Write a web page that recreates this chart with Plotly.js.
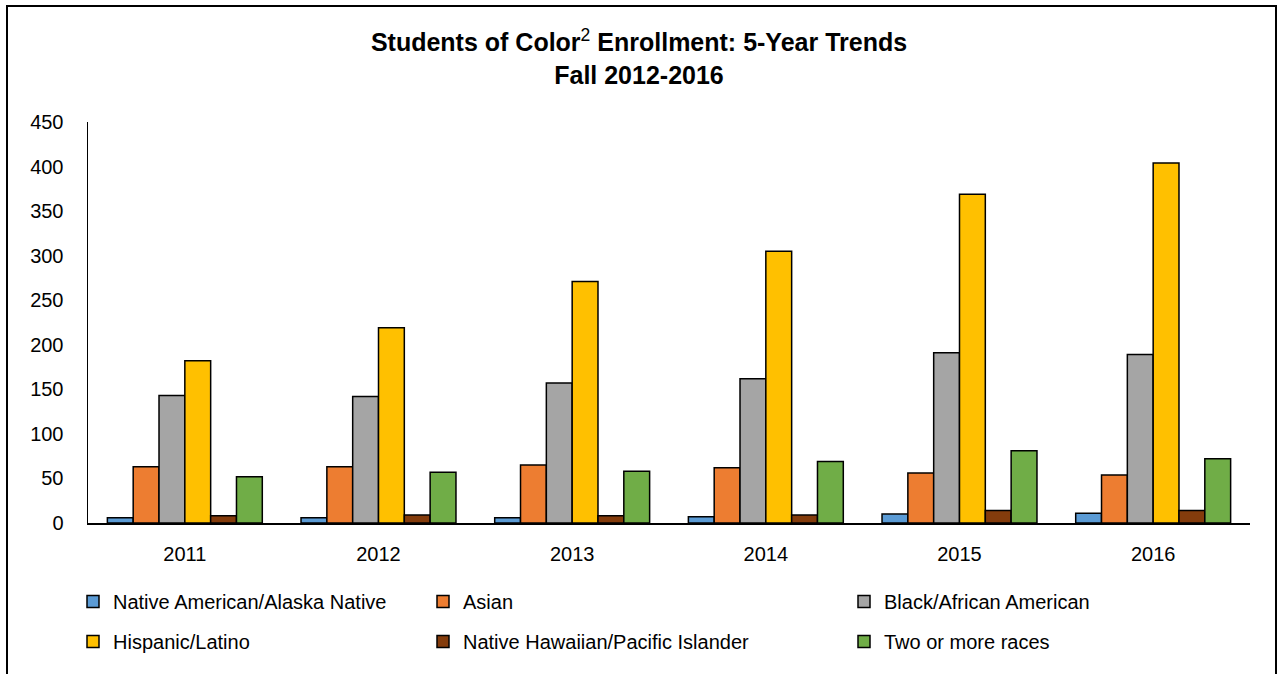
<!DOCTYPE html>
<html><head><meta charset="utf-8">
<script src="https://cdn.plot.ly/plotly-3.0.1.min.js"></script>
<style>html,body{margin:0;padding:0;background:#fff;overflow:hidden;}</style>
</head><body><div id="chart" style="width:1278px;height:674px;"></div>
<script>
const years = ['2011', '2012', '2013', '2014', '2015', '2016'];
const nativeAmerican = [6, 6, 6, 7, 10, 11];
const asian = [63, 63, 65, 62, 56, 54];
const black = [143, 142, 157, 162, 191, 189];
const hispanic = [182, 219, 271, 305, 369, 404];
const hawaiian = [8, 9, 8, 9, 14, 14];
const twoOrMore = [52, 57, 58, 69, 81, 72];
const seriesNames = ['Native American/Alaska Native', 'Asian', 'Black/African American',
  'Hispanic/Latino', 'Native Hawaiian/Pacific Islander', 'Two or more races'];
const seriesColors = ['#5B9BD5', '#ED7D31', '#A5A5A5', '#FFC000', '#843C0C', '#70AD47'];
const seriesValues = [nativeAmerican, asian, black, hispanic, hawaiian, twoOrMore];
const seriesLegend = ['legend', 'legend2', 'legend3', 'legend', 'legend2', 'legend3'];

const FONT = 'Liberation Sans, Arial, sans-serif';
const W = 1278, H = 674, L = 88, R = 28, T = 122, B = 151;
const PW = W - L - R, PH = H - T - B;
const px = x => (x - L) / PW;
const py = y => (H - B - y) / PH;

const traces = seriesValues.map((vals, i) => ({
  type: 'bar', name: seriesNames[i], x: years, y: vals,
  marker: {color: seriesColors[i], line: {color: '#000', width: 1.5}},
  legend: seriesLegend[i], legendgroup: 'g' + i, hoverinfo: 'x+y+name'
}));

function legendCfg(xPix) {
  return {
    x: px(xPix), xanchor: 'left', y: py(582), yanchor: 'top',
    orientation: 'v', font: {family: FONT, size: 20, color: '#000'},
    bgcolor: 'rgba(0,0,0,0)', itemwidth: 30, tracegroupgap: 11,
    traceorder: 'grouped', borderwidth: 0
  };
}

const layout = {
  width: W, height: H,
  margin: {l: L, r: R, t: T, b: B, pad: 0},
  paper_bgcolor: '#fff', plot_bgcolor: '#fff',
  font: {family: FONT, color: '#000'},
  title: {
    text: '<b>Students of Color</b><span style="font-weight:normal"><sup>2</sup></span><b> Enrollment: 5-Year Trends</b><br><b>Fall 2012-2016</b>',
    font: {family: FONT, size: 25, color: '#000'},
    x: 0.5, xanchor: 'center', xref: 'container',
    y: 1 - 51 / H, yanchor: 'top', yref: 'container'
  },
  barmode: 'group', bargap: 0.2, bargroupgap: 0,
  xaxis: {
    type: 'category', showline: true, linecolor: '#000', linewidth: 1.5,
    ticks: '', showgrid: false, zeroline: false,
    tickfont: {family: FONT, size: 20, color: '#000'}, ticklabelstandoff: 12
  },
  yaxis: {
    range: [0, 450], dtick: 50, tick0: 0, showline: true, linecolor: '#000', linewidth: 1.5,
    ticks: '', showgrid: false, zeroline: false,
    tickfont: {family: FONT, size: 20, color: '#000'}, ticklabelstandoff: 19
  },
  legend: legendCfg(73),
  legend2: legendCfg(423),
  legend3: legendCfg(844),
  shapes: [{
    type: 'rect', xref: 'paper', yref: 'paper',
    x0: px(7), x1: px(1276), y0: py(6), y1: py(690),
    line: {color: '#000', width: 2}, fillcolor: 'rgba(0,0,0,0)', layer: 'below'
  }],
  showlegend: true
};

Plotly.newPlot('chart', traces, layout, {displayModeBar: false, staticPlot: true});
</script>
</body></html>
